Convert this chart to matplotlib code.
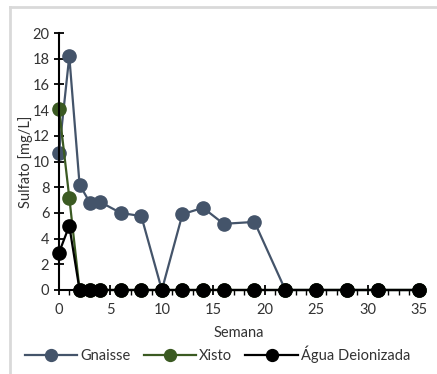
import matplotlib.pyplot as plt
from matplotlib.ticker import MultipleLocator
from matplotlib.lines import Line2D

plt.rcParams['font.family'] = ['Lato', 'DejaVu Sans']

# Sulfate release (mg/L) by week
semana = [0, 1, 2, 3, 4, 6, 8, 10, 12, 14, 16, 19, 22, 25, 28, 31, 35]
gnaisse = [10.7, 18.2, 8.2, 6.8, 6.85, 6.0, 5.75, 0, 5.9, 6.4, 5.15, 5.3, 0, 0, 0, 0, 0]
xisto = [14.1, 7.2, 0, 0, 0, 0, 0, 0, 0, 0, 0, 0, 0, 0, 0, 0, 0]
agua = [2.9, 5.0, 0, 0, 0, 0, 0, 0, 0, 0, 0, 0, 0, 0, 0, 0, 0]

series = [("Gnaisse", gnaisse, "#44546a"),
          ("Xisto", xisto, "#3b5a22"),
          ("Água Deionizada", agua, "#000000")]

fs = 10.5

fig = plt.figure(figsize=(4.37, 3.74), dpi=100)
ax = fig.add_axes([0.135, 0.2246, 0.824, 0.687])

for name, vals, col in series:
    ax.plot(semana, vals, color=col, lw=1.6, marker='o', ms=9.5,
            label=name, clip_on=False)

ax.set_xlim(0, 35)
ax.set_ylim(0, 20)
ax.xaxis.set_major_locator(MultipleLocator(5))
ax.xaxis.set_minor_locator(MultipleLocator(1))
ax.yaxis.set_major_locator(MultipleLocator(2))

for s in ['top', 'right']:
    ax.spines[s].set_visible(False)
for s in ['left', 'bottom']:
    ax.spines[s].set_linewidth(1.5)
ax.tick_params(axis='both', which='major', direction='inout', length=7,
               width=1.3, labelsize=fs, color='black', labelcolor='#333333')
ax.tick_params(axis='x', which='major', pad=6)
ax.tick_params(axis='x', which='minor', direction='out', length=3.5, width=1.0)

ax.set_xlabel("Semana", fontsize=fs, color='#333333', labelpad=6)
ax.set_ylabel("Sulfato [mg/L]", fontsize=fs, color='#333333')
ax.yaxis.set_label_coords(-0.072, 0.5)

ax.legend(loc='upper center', bbox_to_anchor=(0.44, -0.165), ncol=3,
          frameon=False, fontsize=fs, handlelength=3.6, handletextpad=0.2,
          columnspacing=0.9, markerscale=0.9, labelcolor='#333333')

# light frame of the chart area
fig.add_artist(Line2D([0.023, 0.023], [0, 0.981], transform=fig.transFigure,
                      color='#d9d9d9', lw=2))
fig.add_artist(Line2D([0.023, 1.0], [0.981, 0.981], transform=fig.transFigure,
                      color='#d9d9d9', lw=2))

fig.savefig("out.png", dpi=100)
